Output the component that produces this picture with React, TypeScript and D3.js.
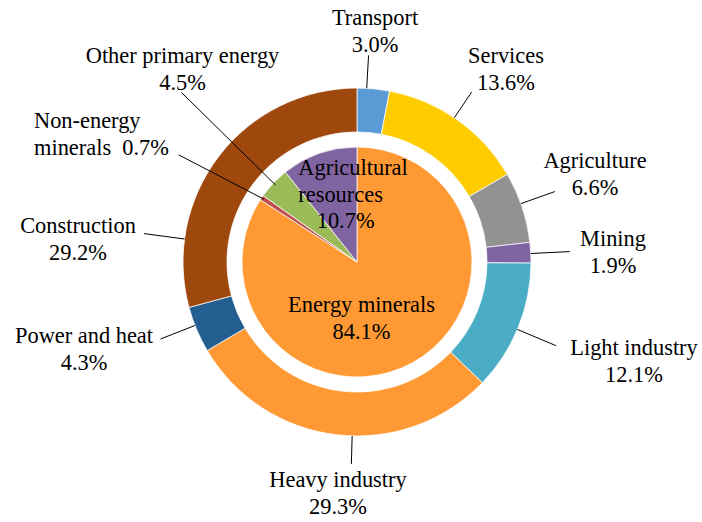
import React from 'react';
import * as d3 from 'd3';

// ---- data ----
const outerCategories = ['Transport', 'Services', 'Agriculture', 'Mining', 'Light industry', 'Heavy industry', 'Power and heat', 'Construction'];
const outerValues = [3.0, 13.6, 6.6, 1.9, 12.1, 29.3, 4.3, 29.2];
const outerColors = ['#5B9BD5', '#FFCC00', '#929292', '#8064A2', '#4BACC6', '#FF9933', '#255E91', '#9E480E'];

const innerCategories = ['Energy minerals', 'Non-energy minerals', 'Other primary energy', 'Agricultural resources'];
const innerValues = [84.1, 0.7, 4.5, 10.7];
const innerColors = ['#FF9933', '#C0504D', '#9BBB59', '#8064A2'];

// ---- label layout (offsets from chart centre, first-line baseline) ----
const outerLabelText = [['Transport'], ['Services'], ['Agriculture'], ['Mining'], ['Light industry'], ['Heavy industry'], ['Power and heat'], ['Construction']];
const outerLabelPos = [[18, -237], [149, -199], [238, -94], [256, -16], [277, 93], [-19, 225], [-273, 81], [-279, -29]];
const outerLeaderAngle = [3.2, 34, 70.4, 87.2, 112.8, 181.6, 248.6, 277.6];
const outerLeaderEnd = [207, 205, 210, 213, 216, 202, 211, 215];

const innerLabelText = [['Energy minerals'], ['Non-energy', 'minerals\u00a0\u00a0'], ['Other primary energy'], ['Agricultural', 'resources']];
const innerLabelPos = [[4.5, 50], [-323, -134], [-174.5, -199], [-58.7, -87]];
const innerLabelAnchor = ['middle', 'start', 'middle', 'start'];
const innerLeaderEndAngle = [null, 301, 314, null];
const innerLeaderEnd = [0, 208, 244, 0];

const W = 702;
const H = 522;
const CX = 357;
const CY = 262;
const R_OUT = 174;
const R_RING_IN = 130;
const R_PIE = 115;
const R_LEADER_IN = 112;
const FONT = "'Liberation Serif', 'Times New Roman', Times, serif";
const FS = 22.4;
const LH = 26.7;

const fmt = (v: number) => `${v.toFixed(1)}%`;

export default function App() {
  const pie = d3.pie<number>().sort(null).value((d) => d);
  const outerArcs = pie(outerValues);
  const innerArcs = pie(innerValues);
  const ringArc = d3.arc<d3.PieArcDatum<number>>().innerRadius(R_RING_IN).outerRadius(R_OUT);
  const pieArc = d3.arc<d3.PieArcDatum<number>>().innerRadius(0).outerRadius(R_PIE);
  const rad = (deg: number) => (deg * Math.PI) / 180;
  const textStyle: React.CSSProperties = { fontFamily: FONT, fontSize: FS, whiteSpace: 'pre' };

  return (
    <svg width={W} height={H} style={{ position: 'absolute', left: 0, top: 0, background: '#fff' }}>
      <g transform={`translate(${CX},${CY})`}>
        {outerArcs.map((a, i) => (
          <path key={'o' + i} d={ringArc(a) || ''} fill={outerColors[i]} stroke="#fff" strokeWidth={0.75} />
        ))}
        {innerArcs.map((a, i) => (
          <path key={'i' + i} d={pieArc(a) || ''} fill={innerColors[i]} stroke="#fff" strokeWidth={0.75} />
        ))}
        {outerArcs.map((a, i) => {
          const ang = rad(outerLeaderAngle[i]);
          const p1 = d3.pointRadial(ang, R_OUT);
          const p2 = d3.pointRadial(ang, outerLeaderEnd[i]);
          return <line key={'ol' + i} x1={p1[0]} y1={p1[1]} x2={p2[0]} y2={p2[1]} stroke="#000" strokeWidth={1} />;
        })}
        {innerArcs.map((a, i) => {
          const endAng = innerLeaderEndAngle[i];
          if (endAng == null) return null;
          const mid = (a.startAngle + a.endAngle) / 2;
          const p1 = d3.pointRadial(mid, R_LEADER_IN);
          const p2 = d3.pointRadial(rad(endAng), innerLeaderEnd[i]);
          return <line key={'il' + i} x1={p1[0]} y1={p1[1]} x2={p2[0]} y2={p2[1]} stroke="#000" strokeWidth={1} />;
        })}
        {outerCategories.map((c, i) => {
          const [x, y] = outerLabelPos[i];
          const lines = [...outerLabelText[i], fmt(outerValues[i])];
          return (
            <text key={'ot' + i} x={x} y={y} textAnchor="middle" fill="#000" style={textStyle}>
              {lines.map((l, j) => (
                <tspan key={j} x={x} y={y + j * LH}>{l}</tspan>
              ))}
            </text>
          );
        })}
        {innerCategories.map((c, i) => {
          const [x, y] = innerLabelPos[i];
          const base = innerLabelText[i];
          let lines: string[];
          if (i === 1) {
            lines = [base[0], base[1] + fmt(innerValues[i])];
          } else {
            lines = [...base, fmt(innerValues[i])];
          }
          const anchor = innerLabelAnchor[i];
          return (
            <text key={'it' + i} x={x} y={y} textAnchor={anchor} fill="#000" style={textStyle}>
              {lines.map((l, j) => {
                let lx = x;
                if (i === 3 && j === 2) lx = x + 18.4;
                return (
                  <tspan key={j} x={lx} y={y + j * LH}>{l}</tspan>
                );
              })}
            </text>
          );
        })}
      </g>
    </svg>
  );
}
